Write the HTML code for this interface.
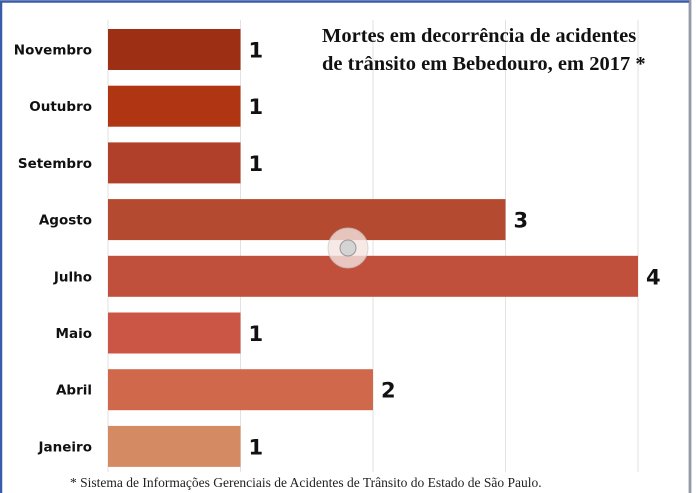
<!DOCTYPE html>
<html><head><meta charset="utf-8"><style>
body{margin:0;width:696px;height:493px;overflow:hidden;background:#fff}
svg{display:block}
</style></head><body>
<svg width="696" height="493" viewBox="0 0 696 493" xmlns="http://www.w3.org/2000/svg">
<rect x="0" y="0" width="696" height="493" fill="#fff"/>
<rect x="1" y="1.5" width="689" height="500" fill="none" stroke="#3a5ba8" stroke-width="2.5"/>
<line x1="690" y1="0" x2="690" y2="493" stroke="#999" stroke-width="2"/>
<g id="grid"></g>
<g id="bars"></g>
<text x="322" y="42" font-family="Liberation Serif, serif" font-weight="bold" font-size="20.5" fill="#111">Mortes em decorrência de acidentes</text>
<text x="322" y="70" font-family="Liberation Serif, serif" font-weight="bold" font-size="20.5" fill="#111">de trânsito em Bebedouro, em 2017 *</text>
<g>
<circle cx="348" cy="248" r="20" fill="#f4e4e0" opacity="0.8" stroke="#ccc"/>
<circle cx="348" cy="248" r="8" fill="#d4d4d4" stroke="#999"/>
</g>
<text x="70" y="487" font-family="Liberation Serif, serif" font-size="13.5" fill="#222">* Sistema de Informações Gerenciais de Acidentes de Trânsito do Estado de São Paulo.</text>
</svg>
<script>
const categories=["Novembro","Outubro","Setembro","Agosto","Julho","Maio","Abril","Janeiro"];
const values=[1,1,1,3,4,1,2,1];
const colors=["#9c2f14","#b03512","#b0402a","#b44a30","#c0503c","#cc5646","#d0694c","#d48a62"];
const ticks=[1,2,3,4];
const ns="http://www.w3.org/2000/svg";
const x0=108,unit=132.5,top0=29,step=56.7,bh=41;
const xs=v=>x0+v*unit;
const grid=document.getElementById('grid'),bars=document.getElementById('bars');
const gl0=document.createElementNS(ns,'line');


gl0.setAttribute('x1',x0);gl0.setAttribute('x2',x0);gl0.setAttribute('y1',20);gl0.setAttribute('y2',472);gl0.setAttribute('stroke','#e2e2e2');
grid.appendChild(gl0);
ticks.forEach(t=>{const l=document.createElementNS(ns,'line');


l.setAttribute('x1',xs(t));l.setAttribute('x2',xs(t));l.setAttribute('y1',20);l.setAttribute('y2',472);l.setAttribute('stroke','#e2e2e2');grid.appendChild(l);});
categories.forEach((c,i)=>{const y=top0+i*step;
const r=document.createElementNS(ns,'rect');


r.setAttribute('x',x0);r.setAttribute('y',y);r.setAttribute('width',xs(values[i])-x0);r.setAttribute('height',bh);r.setAttribute('fill',colors[i]);bars.appendChild(r);
const lb=document.createElementNS(ns,'text');


lb.setAttribute('x',92);lb.setAttribute('y',y+bh/2+5);lb.setAttribute('text-anchor','end');lb.setAttribute('font-family','DejaVu Sans, sans-serif');lb.setAttribute('font-weight','bold');lb.setAttribute('font-size','13.5');lb.setAttribute('fill','#111');lb.textContent=c;bars.appendChild(lb);
const v=document.createElementNS(ns,'text');


v.setAttribute('x',xs(values[i])+8);v.setAttribute('y',y+bh/2+8);v.setAttribute('font-family','DejaVu Sans, sans-serif');v.setAttribute('font-weight','bold');v.setAttribute('font-size','21');v.setAttribute('fill','#111');v.textContent=values[i];bars.appendChild(v);});
</script>
</body></html>
